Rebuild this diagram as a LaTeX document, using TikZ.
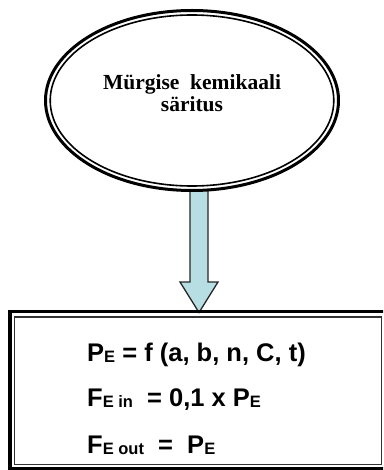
\documentclass[tikz,border=0pt]{standalone}
\usepackage{fontspec}
\usetikzlibrary{calc}
\setmainfont{Liberation Serif}
\newfontfamily\arialb[BoldFont=*]{Liberation Sans Bold}
\tikzset{
  x=1pt,y=-1pt,
  outerline/.style={line width=3pt},
  innerline/.style={line width=1.6pt},
  arrowbody/.style={draw=black!85,line width=1.3pt,fill=arrowblue,line join=miter},
  formula/.style={anchor=base west,inner sep=0pt,font=\arialb\fontsize{25.5}{26}\selectfont},
}
\definecolor{arrowblue}{HTML}{B7DEE3}
\newcommand{\sbs}[1]{\raisebox{-1pt}{\fontsize{16.5}{17}\selectfont #1}}
\begin{document}
\begin{tikzpicture}
\useasboundingbox (0,0) rectangle (383,470);
\begin{scope}
\clip (0,0) rectangle (383,470);
% nodes
\coordinate (ec) at (192,100.5);
\coordinate (atop) at (199,190);
\coordinate (atip) at (199,312.5);
% arrow
\draw[arrowbody] ($(atop)+(-9,0)$) -- ($(atop)+(-9,92)$) -- ($(atop)+(-19,92)$) -- (atip) -- ($(atop)+(19,92)$) -- ($(atop)+(9,92)$) -- ($(atop)+(9,0)$) -- cycle;
% ellipse (double line)
\path[fill=white] (ec) ellipse [x radius=146.5, y radius=90];
\draw[outerline] (ec) ellipse [x radius=146.5, y radius=90];
\draw[innerline] (ec) ellipse [x radius=141.8, y radius=85.5];
\node[font=\bfseries\fontsize{21.5}{22}\selectfont,align=center,inner sep=0pt] (e) at (192,93) {Mürgise\ \ kemikaali\\säritus};
% box
\draw[line width=3.5pt] (9.8,311.5) rectangle (392,468.3);
\draw[line width=1.1pt,draw=black!80] (14.5,317) rectangle (381.8,464.8);
\node[formula] (f1) at (87,361.7) {P\sbs{E} = f (a, b, n, C, t)};
\node[formula] (f2) at (87,406.7) {F\sbs{E in}\ \ = 0,1 x P\sbs{E}};
\node[formula] (f3) at (87,453.3) {F\sbs{E out}\ \ = \ P\sbs{E}};
\end{scope}
\end{tikzpicture}
\end{document}
